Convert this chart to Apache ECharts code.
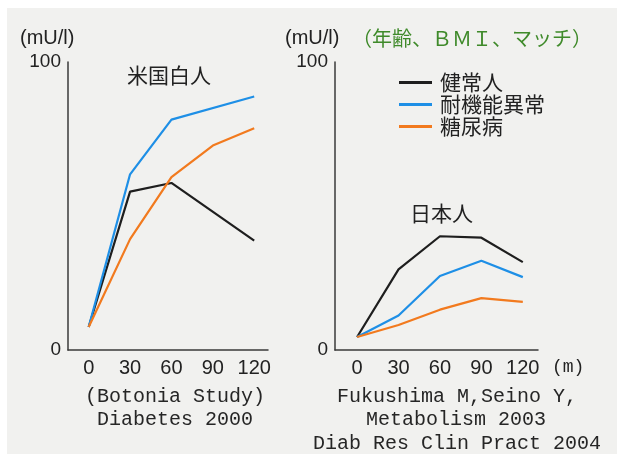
<!DOCTYPE html>
<html>
<head>
<meta charset="utf-8">
<script src="https://cdn.jsdelivr.net/npm/echarts@6/dist/echarts.min.js"></script>
<style>
html,body{margin:0;padding:0;background:#fff;}
#main{width:617px;height:454px;}
</style>
</head>
<body>
<div id="main"></div>
<script>
// 時間（分）
var minutes = [0, 30, 60, 90, 120];
var groupNames = ['健常人', '耐機能異常', '糖尿病'];
var lineColors = ['#1e1e1e', '#1e8fe6', '#f27a1e'];
// 米国白人 (Botonia Study)
var usNormal = [8, 55, 58, null, 38];
var usIgt = [8, 61, 80, null, 88];
var usDm = [8, 38.5, 60, 71, 77];
// 日本人
var jpNormal = [4.5, 28, 39.5, 39, 30.5];
var jpIgt = [4.5, 12, 25.7, 31, 25.3];
var jpDm = [4.5, 8.7, 14, 18, 16.7];
var yTicks = [0, 100];

var myChart = echarts.init(document.getElementById('main'));

function pairs(vals){
	return minutes.map(function(m, i){ return [m, vals[i]]; });
}
function makeSeries(name, vals, idx, color){
	return {
		name: name,
		type: 'line',
		xAxisIndex: idx,
		yAxisIndex: idx,
		data: pairs(vals),
		connectNulls: true,
		symbol: 'none',
		silent: true,
		lineStyle: {color: color, width: 2.2},
		itemStyle: {color: color}
	};
}
function axisLine(){
	return {show: true, onZero: false, lineStyle: {color: '#3a3a3a', width: 1.5}};
}
function xAxisOf(idx, min, max){
	return {
		type: 'value', gridIndex: idx, min: min, max: max,
		axisLine: axisLine(), axisTick: {show: false}, splitLine: {show: false},
		axisLabel: {customValues: minutes, color: '#222', fontSize: 20, margin: 8,
			fontFamily: 'Liberation Sans, Arial, sans-serif'}
	};
}
function yAxisOf(idx){
	return {
		type: 'value', gridIndex: idx, min: 0, max: 100,
		axisLine: axisLine(), axisTick: {show: false}, splitLine: {show: false},
		axisLabel: {customValues: yTicks, color: '#222', fontSize: 19, margin: 7,
			fontFamily: 'Liberation Sans, Arial, sans-serif'}
	};
}
var cite = {fill: '#262626', font: '20px "Liberation Mono", monospace', align: 'center'};
function txt(x, y, s, style){
	return {type: 'text', x: x, y: y, style: Object.assign({text: s, verticalAlign: 'middle'}, style)};
}

var option = {
	backgroundColor: '#ffffff',
	animation: false,
	grid: [
		{left: 68, top: 62, width: 200, height: 288},
		{left: 335, top: 62, width: 203, height: 288}
	],
	xAxis: [xAxisOf(0, -15, 130), xAxisOf(1, -16, 131)],
	yAxis: [yAxisOf(0), yAxisOf(1)],
	legend: {
		left: 394, top: 67, orient: 'vertical', itemGap: 1,
		icon: 'rect', itemWidth: 33, itemHeight: 3,
		data: groupNames,
		selectedMode: false,
		textStyle: {fontSize: 21, color: '#222', padding: [0, 0, 0, 3],
			fontFamily: 'Noto Sans CJK JP, sans-serif'}
	},
	graphic: [
		{type: 'rect', z: -10, shape: {x: 7, y: 8, width: 610, height: 446}, style: {fill: '#f1f1ef'}},
		txt(20, 38, '(mU/l)', {fill: '#222', font: '20px Liberation Sans, sans-serif'}),
		txt(285, 38, '(mU/l)', {fill: '#222', font: '20px Liberation Sans, sans-serif'}),
		txt(352, 38, '（年齢、ＢＭＩ、マッチ）', {fill: '#3f8a2a', font: '20px "Noto Sans CJK JP", sans-serif'}),
		txt(127, 75, '米国白人', {fill: '#222', font: '21px "Noto Sans CJK JP", sans-serif'}),
		txt(410, 213, '日本人', {fill: '#222', font: '21px "Noto Sans CJK JP", sans-serif'}),
		txt(552, 367, '(m)', {fill: '#222', font: '18px "Liberation Mono", monospace'}),
		txt(175, 397, '(Botonia Study)', cite),
		txt(175, 420, 'Diabetes 2000', cite),
		txt(457, 397, 'Fukushima M,Seino Y,', cite),
		txt(456, 420, 'Metabolism 2003', cite),
		txt(457, 444, 'Diab Res Clin Pract 2004', cite)
	],
	series: [
		makeSeries(groupNames[0], usNormal, 0, lineColors[0]),
		makeSeries(groupNames[1], usIgt, 0, lineColors[1]),
		makeSeries(groupNames[2], usDm, 0, lineColors[2]),
		makeSeries(groupNames[0], jpNormal, 1, lineColors[0]),
		makeSeries(groupNames[1], jpIgt, 1, lineColors[1]),
		makeSeries(groupNames[2], jpDm, 1, lineColors[2])
	]
};
myChart.setOption(option);
</script>
</body>
</html>
